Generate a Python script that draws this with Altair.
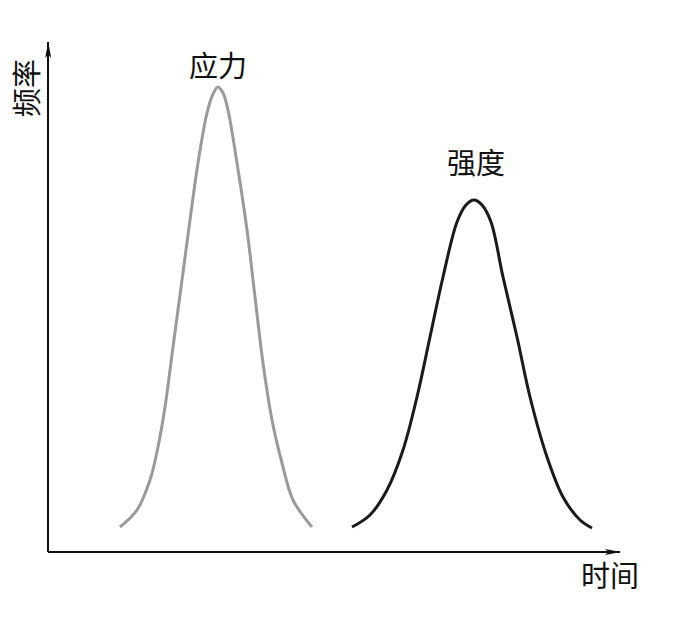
import altair as alt
import pandas as pd

# Stress curve (应力), time units / frequency units
stress_t = [7.2, 8.9, 10.2, 11.0, 11.7, 12.5, 13.4, 14.2, 15.0, 15.9, 16.5, 17.0, 17.5, 18.0, 18.9, 19.9, 20.7, 21.5, 22.4, 23.4, 24.5, 26.4]
stress_f = [0.25, 0.42, 0.72, 1.05, 1.45, 2.05, 2.72, 3.32, 3.89, 4.39, 4.58, 4.65, 4.59, 4.42, 3.89, 3.22, 2.55, 1.89, 1.32, 0.89, 0.52, 0.25]

# Strength curve (强度)
strength_t = [30.4, 32.2, 33.9, 35.5, 36.9, 38.2, 39.5, 40.9, 41.8, 42.6, 43.4, 44.3, 45.5, 46.9, 48.2, 49.9, 51.5, 53.2, 54.4]
strength_f = [0.25, 0.37, 0.62, 1.02, 1.55, 2.15, 2.75, 3.3, 3.47, 3.52, 3.47, 3.3, 2.75, 2.15, 1.55, 0.95, 0.55, 0.32, 0.24]

labels = ["应力", "强度"]
label_t = [17.0, 42.8]
label_f = [4.84, 3.87]

axis_titles = ["时间", "频率"]
axis_title_t = [56.2, -1.9]
axis_title_f = [-0.26, 4.64]
axis_title_angle = [0, 270]

X_DOM = [-4, 62]
Y_DOM = [-0.64, 5.44]

xs = alt.Scale(domain=X_DOM, zero=False, nice=False)
ys = alt.Scale(domain=Y_DOM, zero=False, nice=False)
X = lambda f: alt.X(f, type="quantitative", scale=xs, axis=None)
Y = lambda f: alt.Y(f, type="quantitative", scale=ys, axis=None)

curves = pd.DataFrame(
    {"t": stress_t + strength_t,
     "f": stress_f + strength_f,
     "series": ["应力"] * len(stress_t) + ["强度"] * len(strength_t),
     "order": list(range(len(stress_t))) + list(range(len(strength_t)))}
)

lines = alt.Chart(curves).mark_line(strokeWidth=3, interpolate="catmull-rom").encode(
    x=X("t"), y=Y("f"),
    detail="series:N",
    order="order:Q",
    color=alt.Color("series:N", scale=alt.Scale(domain=["应力", "强度"], range=["#9a9a9a", "#1a1a1a"]), legend=None),
)

axes_df = pd.DataFrame({"t": [0, 0], "f": [0, 0], "t2": [57.2, 0], "f2": [0, 5.1]})
axis_lines = alt.Chart(axes_df).mark_rule(color="#111111", strokeWidth=2).encode(
    x=X("t"), y=Y("f"), x2="t2", y2="f2"
)

arrow_df = pd.DataFrame({"t": [56.5, 0.02], "f": [0, 5.02], "ang": [0, 270]})
arrows = alt.Chart(arrow_df).mark_point(
    shape="M1,0 L-1,-0.38 L-0.55,0 L-1,0.38 Z", filled=True, size=256, color="#111111", opacity=1
).encode(x=X("t"), y=Y("f"), angle=alt.Angle("ang:Q", scale=None))

lab_df = pd.DataFrame({"text": labels, "t": label_t, "f": label_f})
label_text = alt.Chart(lab_df).mark_text(
    font="Noto Sans CJK SC", fontSize=29, color="#111111", baseline="middle", align="center"
).encode(x=X("t"), y=Y("f"), text="text:N")

at_df = pd.DataFrame({"text": axis_titles, "t": axis_title_t, "f": axis_title_f, "ang": axis_title_angle})
axis_text = alt.Chart(at_df).mark_text(
    font="Noto Sans CJK SC", fontSize=29, color="#111111", baseline="middle", align="center"
).encode(x=X("t"), y=Y("f"), text="text:N", angle=alt.Angle("ang:Q", scale=None))

chart = alt.layer(axis_lines, arrows, lines, label_text, axis_text).properties(
    width=660, height=608, padding=0, autosize=alt.AutoSizeParams(type="none")
).configure_view(stroke=None)

chart.save("out.html", embed_options={"renderer": "svg", "actions": False})
